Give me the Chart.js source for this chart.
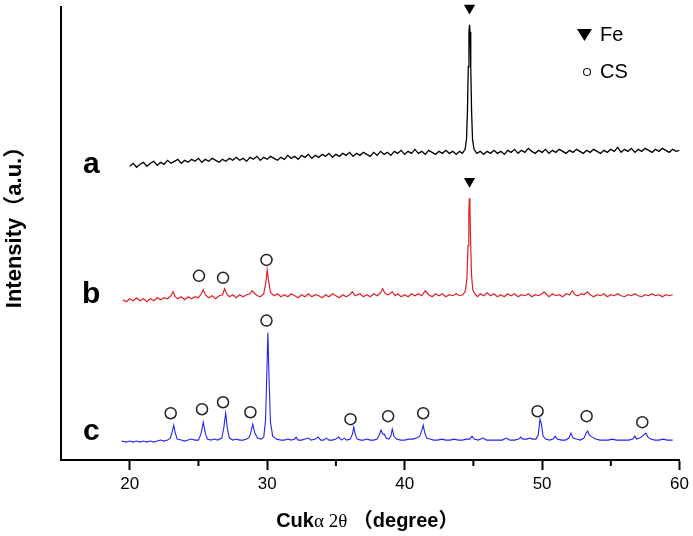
<!DOCTYPE html>
<html>
<head>
<meta charset="utf-8">
<script src="https://cdn.jsdelivr.net/npm/chart.js@4.4.0/dist/chart.umd.min.js"></script>
<style>
  body { margin: 0; background: #fff; }
</style>
</head>
<body>
<canvas id="xrd" width="693" height="536"></canvas>
<script>
// XRD patterns: [2theta, intensity], curves already stacked (a.u.)
const curveA = [
  [20.00,295],[20.25,298],[20.50,294],[20.75,297],[21.00,299],[21.25,295],[21.50,298],[21.75,300],
  [22.00,296],[22.25,299],[22.50,297],[22.75,301],[23.00,298],[23.25,300],[23.50,302],[23.75,298],
  [24.00,301],[24.25,299],[24.50,302],[24.75,300],[25.00,303],[25.25,299],[25.50,302],[25.75,300],
  [26.00,303],[26.25,301],[26.50,299],[26.75,302],[27.00,300],[27.25,303],[27.50,301],[27.75,304],
  [28.00,301],[28.25,303],[28.50,300],[28.75,304],[29.00,302],[29.25,305],[29.50,301],[29.75,304],
  [30.00,302],[30.25,305],[30.50,303],[30.75,301],[31.00,304],[31.25,302],[31.50,306],[31.75,303],
  [32.00,305],[32.25,302],[32.50,306],[32.75,304],[33.00,307],[33.25,303],[33.50,306],[33.75,304],
  [34.00,307],[34.25,305],[34.50,308],[34.75,304],[35.00,307],[35.25,305],[35.50,308],[35.75,306],
  [36.00,309],[36.25,305],[36.50,308],[36.75,306],[37.00,309],[37.25,307],[37.50,305],[37.75,309],
  [38.00,306],[38.25,310],[38.50,307],[38.75,309],[39.00,306],[39.25,310],[39.50,308],[39.75,311],
  [40.00,307],[40.25,310],[40.50,308],[40.75,312],[41.00,308],[41.25,310],[41.50,307],[41.75,311],
  [42.00,309],[42.25,307],[42.50,310],[42.75,308],[43.00,311],[43.25,308],[43.50,310],[43.75,307],
  [44.00,310],[44.20,308],[44.40,312],[44.50,322],[44.57,350],[44.63,395],[44.68,430],[44.72,437],
  [44.76,430],[44.81,395],[44.87,350],[44.94,322],[45.05,312],[45.25,308],[45.50,310],[45.75,307],
  [46.00,310],[46.25,308],
  [46.50,311],[46.75,308],[47.00,310],[47.25,307],[47.50,311],[47.75,309],[48.00,312],[48.25,308],
  [48.50,311],[48.75,309],[49.00,313],[49.25,310],[49.50,308],[49.75,311],[50.00,309],[50.25,312],
  [50.50,308],[50.75,311],[51.00,309],[51.25,312],[51.50,310],[51.75,308],[52.00,311],[52.25,309],
  [52.50,312],[52.75,310],[53.00,308],[53.25,311],[53.50,309],[53.75,312],[54.00,310],[54.25,308],
  [54.50,311],[54.75,309],[55.00,312],[55.25,310],[55.50,314],[55.75,309],[56.00,312],[56.25,310],
  [56.50,313],[56.75,309],[57.00,312],[57.25,310],[57.50,313],[57.75,311],[58.00,309],[58.25,312],
  [58.50,310],[58.75,313],[59.00,311],[59.25,309],[59.50,312],[59.75,310],[60.00,311]
];
const curveB = [
  [19.50,161],[19.75,159],[20.00,162],[20.25,160],[20.50,163],[20.75,160],[21.00,162],[21.25,159],
  [21.50,162],[21.75,160],[22.00,163],[22.25,161],[22.50,163],[22.75,162],[23.00,165],[23.15,169],
  [23.30,164],[23.50,162],[23.75,164],[24.00,161],[24.25,164],[24.50,162],[24.75,164],[25.00,163],
  [25.20,167],[25.35,171],[25.50,166],[25.75,163],[26.00,165],[26.25,162],[26.50,165],[26.75,166],
  [26.90,172],[27.05,167],[27.25,164],[27.50,166],[27.75,163],[28.00,166],[28.25,164],[28.50,166],
  [28.75,167],[28.90,170],[29.10,167],[29.30,165],[29.50,164],[29.75,167],[29.90,178],[30.00,191],
  [30.10,180],[30.25,168],[30.50,165],[30.75,167],[31.00,164],[31.25,166],[31.50,164],[31.75,167],
  [32.00,165],[32.25,163],[32.50,166],[32.75,164],[33.00,167],[33.25,164],[33.50,166],[33.75,165],
  [34.00,163],[34.25,166],[34.50,164],[34.75,167],[35.00,165],[35.25,163],[35.50,166],[35.75,164],
  [36.00,166],[36.20,169],[36.40,165],[36.75,167],[37.00,164],[37.25,166],[37.50,164],[37.75,167],
  [38.00,165],[38.25,168],[38.40,172],[38.60,167],[38.80,166],[39.10,169],[39.30,165],[39.50,167],
  [39.75,164],[40.00,166],[40.25,164],[40.50,167],[40.75,165],[41.00,167],[41.25,165],[41.50,170],
  [41.75,166],[42.00,164],[42.25,167],[42.50,165],[42.75,167],[43.00,164],[43.25,166],[43.50,165],
  [43.75,167],[44.00,165],[44.25,166],[44.42,170],[44.53,182],[44.61,215],[44.67,250],[44.71,263],
  [44.75,252],[44.80,218],[44.87,185],[44.96,171],[45.10,167],[45.30,164],[45.50,167],[45.75,165],
  [46.00,168],[46.25,165],
  [46.50,167],[46.75,164],[47.00,166],[47.25,164],[47.50,167],[47.75,165],[48.00,167],[48.25,164],
  [48.50,166],[48.75,165],[49.00,167],[49.25,164],[49.50,166],[49.75,165],[50.00,167],[50.15,169],
  [50.35,166],[50.50,164],[50.75,167],[51.00,165],[51.25,166],[51.50,164],[51.75,167],[52.00,166],
  [52.20,170],[52.40,166],[52.60,165],[52.85,167],[53.05,166],[53.30,169],[53.50,166],[53.75,164],
  [54.00,166],[54.25,165],[54.50,167],[54.75,164],[55.00,166],[55.25,165],[55.50,167],[55.75,165],
  [56.00,164],[56.25,166],[56.50,165],[56.75,167],[57.00,165],[57.25,164],[57.50,166],[57.75,165],
  [58.00,167],[58.25,165],[58.50,166],[58.75,164],[59.00,166],[59.25,165],[59.50,166]
];
const curveC = [
  [19.40,19],[19.75,18],[20.00,19],[20.25,18],[20.50,19],[20.75,18],[21.00,19],[21.25,18],
  [21.50,19],[21.75,18],[22.00,19],[22.25,20],[22.50,19],[22.75,20],[22.95,22],[23.10,29],
  [23.20,35],[23.30,28],[23.45,21],[23.75,20],[24.00,19],[24.25,20],[24.50,21],[24.75,20],
  [25.00,20],[25.20,27],[25.35,38],[25.50,27],[25.65,21],[25.90,20],[26.15,21],[26.40,20],
  [26.70,22],[26.85,33],[26.98,47],[27.10,32],[27.25,22],[27.50,20],[27.75,21],[28.00,20],
  [28.25,20],[28.50,21],[28.70,23],[28.85,30],[28.95,36],[29.10,27],[29.30,22],[29.55,21],
  [29.75,23],[29.88,40],[29.98,90],[30.05,128],[30.13,85],[30.24,38],[30.40,24],[30.65,21],
  [31.00,20],[31.25,20],[31.50,21],[31.75,20],[32.00,21],[32.10,23],[32.25,20],[32.50,20],
  [32.75,21],[33.00,22],[33.20,20],[33.50,21],[33.70,23],[33.90,20],[34.10,20],[34.30,22],
  [34.50,20],[34.75,20],[35.00,21],[35.20,23],[35.40,20],[35.60,22],[35.80,20],[36.05,21],
  [36.20,26],[36.30,33],[36.40,26],[36.55,21],[36.80,20],[37.00,20],[37.25,21],[37.50,20],
  [37.75,20],[38.00,21],[38.15,25],[38.28,30],[38.40,26],[38.52,26],[38.65,22],[38.85,21],
  [39.00,24],[39.10,31],[39.22,24],[39.40,21],[39.70,20],[40.00,20],[40.30,21],[40.60,21],
  [40.85,22],[41.10,24],[41.25,30],[41.35,35],[41.45,28],[41.60,22],[41.85,21],[42.10,20],
  [42.40,20],[42.70,21],[43.00,20],[43.30,20],[43.60,21],[43.90,20],[44.20,20],[44.50,21],
  [44.75,21],[44.90,24],[45.05,21],[45.35,20],[45.70,22],[45.95,20],[46.30,20],[46.70,20],
  [47.10,20],[47.40,22],[47.65,20],[48.00,20],[48.30,21],[48.45,23],[48.60,21],[48.90,21],
  [49.10,22],[49.30,21],[49.55,21],[49.72,25],[49.85,41],[49.95,36],[50.07,24],[50.25,21],
  [50.55,20],[50.80,21],[50.95,24],[51.10,21],[51.40,20],[51.70,20],[51.95,22],[52.10,27],
  [52.25,22],[52.50,21],[52.80,20],[53.05,22],[53.20,27],[53.32,29],[53.45,25],[53.65,23],
  [53.90,21],[54.20,20],[54.50,20],[54.80,20],[55.10,21],[55.40,20],[55.70,20],[56.00,20],
  [56.30,20],[56.60,21],[56.75,24],[56.88,21],[57.10,22],[57.30,24],[57.55,27],[57.70,23],
  [57.90,21],[58.20,20],[58.50,20],[58.80,21],[59.10,20],[59.50,20]
];

// phase markers
const feMarks = [[44.72, 454], [44.72, 280]];
const csMarks = [
  [25.04,185],[26.79,183],[29.95,201],
  [22.98,47],[25.26,51],[26.79,58],[28.78,48],[29.95,140],[36.06,41],[38.80,44],
  [41.35,47],[49.67,49],[53.24,44],[57.29,38]
];

const sampleNames = ['a', 'b', 'c'];
const sampleLabelY = [288, 158, 20];
const sampleLabelX = 17.2;
const curveColors = ['#000000', '#dd1f26', '#2323f5'];

const xMajorTicks = [20, 30, 40, 50, 60];
const xMinorTicks = [25, 35, 45, 55];

const toXY = arr => arr.map(p => ({x: p[0], y: p[1]}));

const extras = {
  id: 'extras',
  afterDraw(chart) {
    const {ctx, chartArea, scales: {x, y}} = chart;
    ctx.save();

    // minor ticks on the 2theta axis
    ctx.strokeStyle = '#000';
    ctx.lineWidth = 2;
    xMinorTicks.forEach(v => {
      const px = x.getPixelForValue(v);
      ctx.beginPath();
      ctx.moveTo(px, chartArea.bottom);
      ctx.lineTo(px, chartArea.bottom + 6);
      ctx.stroke();
    });

    // sample letters
    ctx.fillStyle = '#000';
    ctx.font = 'bold 30px Arial, "Liberation Sans", sans-serif';
    ctx.textAlign = 'center';
    ctx.textBaseline = 'alphabetic';
    sampleNames.forEach((s, i) => {
      ctx.fillText(s, x.getPixelForValue(sampleLabelX), y.getPixelForValue(sampleLabelY[i]));
    });

    // y axis title, a bit above the axis middle as in the original
    ctx.save();
    ctx.translate(15, 222);
    ctx.rotate(-Math.PI / 2);
    ctx.font = 'bold 22px Arial, "Liberation Sans", "Noto Sans CJK SC", sans-serif';
    ctx.textBaseline = 'middle';
    ctx.fillText('Intensity\uff08a.u.\uff09', 0, 0);
    ctx.restore();

    // legend
    ctx.beginPath();
    ctx.moveTo(577, 29);
    ctx.lineTo(592, 29);
    ctx.lineTo(584.5, 41);
    ctx.closePath();
    ctx.fill();
    ctx.beginPath();
    ctx.lineWidth = 1.2;
    ctx.strokeStyle = '#222';
    ctx.arc(587, 72, 3.5, 0, Math.PI * 2);
    ctx.stroke();
    ctx.font = '20px Arial, "Liberation Sans", sans-serif';
    ctx.textAlign = 'left';
    ctx.textBaseline = 'middle';
    ctx.fillText('Fe', 600, 35);
    ctx.fillText('CS', 600, 72);

    // x axis title, mixed fonts like the original
    const parts = [
      ['Cuk', 'bold 20px Arial, "Liberation Sans", sans-serif'],
      ['\u03b1 2\u03b8', '19px "Liberation Serif", "Times New Roman", serif'],
      [' \uff08degree\uff09', 'bold 20px Arial, "Liberation Sans", "Noto Sans CJK SC", sans-serif']
    ];
    ctx.textBaseline = 'alphabetic';
    let total = 0;
    parts.forEach(p => { ctx.font = p[1]; total += ctx.measureText(p[0]).width; });
    let tx = (chartArea.left + chartArea.right) / 2 - 3 - total / 2;
    parts.forEach(p => {
      ctx.font = p[1];
      ctx.fillText(p[0], tx, 527);
      tx += ctx.measureText(p[0]).width;
    });

    ctx.restore();
  }
};

const curveSet = (data, color, width) => ({
  type: 'line',
  data: toXY(data),
  borderColor: color,
  borderWidth: width,
  pointRadius: 0,
  tension: 0,
  fill: false
});

new Chart(document.getElementById('xrd'), {
  type: 'line',
  data: {
    datasets: [
      curveSet(curveA, curveColors[0], 1.3),
      curveSet(curveB, curveColors[1], 1.2),
      curveSet(curveC, curveColors[2], 1.1),
      {
        type: 'scatter',
        data: toXY(feMarks),
        pointStyle: 'triangle',
        rotation: 180,
        pointRadius: 6.5,
        backgroundColor: '#000',
        borderWidth: 0,
        clip: false
      },
      {
        type: 'scatter',
        data: toXY(csMarks),
        pointStyle: 'circle',
        pointRadius: 5.5,
        backgroundColor: 'rgba(0,0,0,0)',
        borderColor: '#222',
        borderWidth: 1.5,
        clip: false
      }
    ]
  },
  options: {
    responsive: false,
    animation: false,
    layout: { padding: { top: 5, right: 13, left: 0, bottom: 0 } },
    plugins: {
      legend: { display: false },
      tooltip: { enabled: false }
    },
    scales: {
      x: {
        type: 'linear',
        min: 15,
        max: 60,
        afterBuildTicks: scale => { scale.ticks = xMajorTicks.map(v => ({value: v})); },
        afterFit: scale => { scale.height = 76; },
        border: { display: true, color: '#000', width: 2 },
        grid: { display: true, drawOnChartArea: false, drawTicks: true, tickLength: 10, tickWidth: 2, tickColor: '#000' },
        ticks: {
          color: '#000',
          padding: 4,
          maxRotation: 0,
          font: { family: 'Arial, "Liberation Sans", sans-serif', size: 17 }
        }
      },
      y: {
        type: 'linear',
        min: 0,
        max: 455,
        afterFit: scale => { scale.width = 61; },
        border: { display: true, color: '#000', width: 2 },
        grid: { display: false },
        ticks: { display: false },
        title: { display: false }
      }
    }
  },
  plugins: [extras]
});
</script>
</body>
</html>
